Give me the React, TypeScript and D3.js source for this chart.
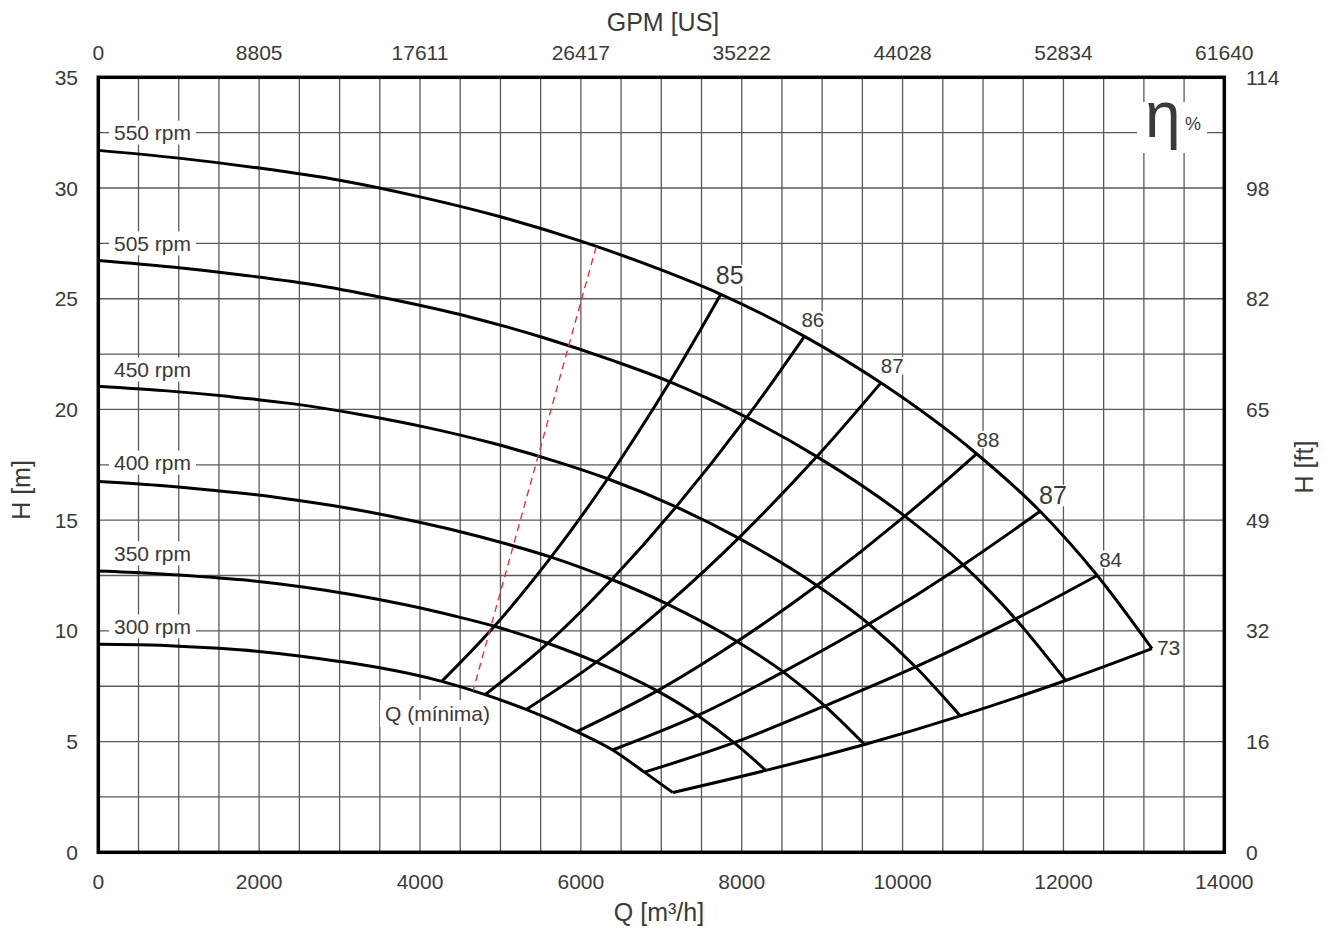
import React from "react";
import * as d3 from "d3";

// ---------- data ----------
const qTicks = [0, 2000, 4000, 6000, 8000, 10000, 12000, 14000];
const gpmTickLabels = ["0", "8805", "17611", "26417", "35222", "44028", "52834", "61640"];
const hTicks = [0, 5, 10, 15, 20, 25, 30, 35];
const ftTickLabels = ["0", "16", "32", "49", "65", "82", "98", "114"];

const speedNames = ["550 rpm", "505 rpm", "450 rpm", "400 rpm", "350 rpm", "300 rpm"];

// points 8..14 of each speed curve are the iso-efficiency vertices
const q550 = [0, 1000, 2000, 3000, 4000, 5000, 6000, 7000, 7740, 8780, 9730, 10920, 11710, 12420, 13100];
const h550 = [31.7, 31.35, 30.9, 30.35, 29.6, 28.7, 27.6, 26.3, 25.2, 23.3, 21.2, 18.0, 15.4, 12.5, 9.2];

const q505 = [0, 918, 1836, 2755, 3673, 4591, 5509, 6427, 7107, 8062, 8934, 10027, 10752, 11404, 12028];
const h505 = [26.73, 26.43, 26.05, 25.59, 24.95, 24.2, 23.27, 22.17, 21.25, 19.64, 17.87, 15.18, 12.98, 10.54, 7.76];

const q450 = [0, 818, 1636, 2455, 3273, 4091, 4909, 5727, 6333, 7184, 7961, 8935, 9581, 10162, 10718];
const h450 = [21.05, 20.85, 20.58, 20.24, 19.76, 19.18, 18.47, 17.61, 16.87, 15.6, 14.19, 12.05, 10.31, 8.37, 6.16];

const q400 = [0, 727, 1455, 2182, 2909, 3636, 4364, 5091, 5629, 6385, 7076, 7942, 8516, 9033, 9527];
const h400 = [16.75, 16.58, 16.34, 16.05, 15.66, 15.18, 14.6, 13.91, 13.33, 12.32, 11.21, 9.52, 8.15, 6.61, 4.87];

const q350 = [0, 636, 1273, 1909, 2545, 3182, 3818, 4455, 4925, 5587, 6192, 6949, 7452, 7904, 8300];
const h350 = [12.7, 12.6, 12.45, 12.26, 11.98, 11.62, 11.18, 10.65, 10.21, 9.44, 8.59, 7.29, 6.18, 4.95, 3.7];

const q300 = [0, 500, 1000, 1500, 2000, 2500, 3000, 3500, 4270, 4810, 5320, 5950, 6395, 6790, 7142];
const h300 = [9.4, 9.37, 9.31, 9.21, 9.07, 8.87, 8.62, 8.33, 7.72, 7.12, 6.45, 5.45, 4.62, 3.62, 2.7];

const effLabels = ["85", "86", "87", "88", "87", "84", "73"];

const qMinQ = [6190, 4660];
const qMinH = [27.35, 7.3];

// ---------- layout / style ----------
const W = 1336;
const HGT = 931;
const L = 98.3, R = 1224.3, T = 77.3, B = 852.3;
const TXT = "#3a3a3a";
const FONT = "'Liberation Sans', Arial, Helvetica, sans-serif";
const rpmLabelH = [32.5, 27.5, 21.8, 17.6, 13.5, 10.2];
const effDx = [-5, -3, 0, 0, -1, 2, 5];
const effDy = [-10, -9, -10, -7, -7, -9, 6];
const effSize = [25, 20.5, 20.5, 20.5, 25, 20.5, 21];

const AW: Record<string, number> = {
  "0": 0.556, "1": 0.556, "2": 0.556, "3": 0.556, "4": 0.556, "5": 0.556, "6": 0.556, "7": 0.556, "8": 0.556, "9": 0.556,
  " ": 0.278, r: 0.333, p: 0.556, m: 0.833, Q: 0.778, "(": 0.333, ")": 0.333, "í": 0.278, n: 0.556, i: 0.222, a: 0.556,
};
const textW = (s: string, fs: number) => s.split("").reduce((acc, c) => acc + (AW[c] ?? 0.556), 0) * fs;

export default function App() {
  const x = d3.scaleLinear().domain([0, 14000]).range([L, R]);
  const y = d3.scaleLinear().domain([0, 35]).range([B, T]);

  const curves = [
    { q: q550, h: h550 },
    { q: q505, h: h505 },
    { q: q450, h: h450 },
    { q: q400, h: h400 },
    { q: q350, h: h350 },
    { q: q300, h: h300 },
  ];

  const speedLine = d3
    .line<[number, number]>()
    .x((d) => x(d[0]))
    .y((d) => y(d[1]))
    .curve(d3.curveMonotoneX);

  const isoLine = d3
    .line<[number, number]>()
    .x((d) => x(d[0]))
    .y((d) => y(d[1]))
    .curve(d3.curveNatural);

  const straight = d3
    .line<[number, number]>()
    .x((d) => x(d[0]))
    .y((d) => y(d[1]));

  const vGrid = d3.range(500, 14000, 500);
  const hGrid = d3.range(2.5, 35, 2.5);

  const isoLines = effLabels.map((lab, k) =>
    curves
      .map((c) => [c.q[8 + k], c.h[8 + k]] as [number, number])
      .reverse()
  );

  return (
    <svg
      width={W}
      height={HGT}
      style={{ position: "absolute", left: 0, top: 0, background: "#fff" }}
      fontFamily={FONT}
    >
      <rect x={0} y={0} width={W} height={HGT} fill="#fff" />
      {/* grid */}
      <g stroke="#5a5a5a" strokeWidth={1.3}>
        {vGrid.map((v) => (
          <line key={"v" + v} x1={x(v)} x2={x(v)} y1={T} y2={B} />
        ))}
        {hGrid.map((v) => (
          <line key={"h" + v} x1={L} x2={R} y1={y(v)} y2={y(v)} />
        ))}
      </g>

      {/* rpm labels */}
      {speedNames.map((s, i) => {
        const yc = y(rpmLabelH[i]);
        const w = textW(s, 21);
        return (
          <g key={s}>
            <rect x={109} y={yc - 12} width={w + 10} height={24} fill="#fff" />
            <text x={114} y={yc + 7.5} fontSize={21} fill={TXT}>
              {s}
            </text>
          </g>
        );
      })}

      {/* speed curves */}
      <g fill="none" stroke="#000" strokeWidth={3}>
        {curves.map((c, i) => (
          <path key={"c" + i} d={speedLine(c.q.map((q, j) => [q, c.h[j]] as [number, number])) || ""} />
        ))}
        {isoLines.map((pts, k) => (
          <path key={"iso" + k} d={isoLine(pts) || ""} />
        ))}
      </g>

      {/* minimum flow */}
      <path
        d={straight(qMinQ.map((q, i) => [q, qMinH[i]] as [number, number])) || ""}
        fill="none"
        stroke="#e8343a"
        strokeWidth={1.4}
        strokeDasharray="7,5"
      />

      {/* efficiency labels */}
      {effLabels.map((lab, k) => {
        const vx = x(q550[8 + k]) + effDx[k];
        const vy = y(h550[8 + k]) + effDy[k];
        const fs = effSize[k];
        const w = textW(lab, fs);
        return (
          <g key={"el" + k}>
            <rect x={vx - 1} y={vy - fs * 0.78} width={w + 2} height={fs * 0.86} fill="#fff" />
            <text x={vx} y={vy} fontSize={fs} fill={TXT}>
              {lab}
            </text>
          </g>
        );
      })}

      {/* Q (minima) label */}
      <rect x={380} y={700} width={116} height={27} fill="#fff" />
      <text x={437.5} y={721} fontSize={21} fill={TXT} textAnchor="middle">
        Q (mínima)
      </text>

      {/* eta */}
      <rect x={1137} y={102} width={70} height={51} fill="#fff" />
      <text x={1145} y={137} fontSize={64} fill={TXT}>
        η
      </text>
      <text x={1185} y={130} fontSize={18} fill={TXT}>
        %
      </text>

      {/* frame */}
      <rect x={L} y={T} width={R - L} height={B - T} fill="none" stroke="#000" strokeWidth={3.5} />

      {/* ticks */}
      <g fontSize={21} fill={TXT}>
        {hTicks.map((v) => (
          <text key={"l" + v} x={78} y={y(v) + 7.5} textAnchor="end">
            {v}
          </text>
        ))}
        {hTicks.map((v, i) => (
          <text key={"r" + v} x={1246} y={y(v) + 7.5} textAnchor="start">
            {ftTickLabels[i]}
          </text>
        ))}
        {qTicks.map((v) => (
          <text key={"b" + v} x={x(v)} y={889} textAnchor="middle">
            {v}
          </text>
        ))}
        {qTicks.map((v, i) => (
          <text key={"t" + v} x={x(v)} y={60} textAnchor="middle">
            {gpmTickLabels[i]}
          </text>
        ))}
      </g>

      {/* axis titles */}
      <g fontSize={25} fill={TXT}>
        <text x={663} y={31} textAnchor="middle">
          GPM [US]
        </text>
        <text x={659} y={921} textAnchor="middle">
          Q [m³/h]
        </text>
        <text x={30} y={490} textAnchor="middle" transform="rotate(-90,30,490)">
          H [m]
        </text>
        <text x={1313} y={467} textAnchor="middle" transform="rotate(-90,1313,467)">
          H [ft]
        </text>
      </g>
    </svg>
  );
}
